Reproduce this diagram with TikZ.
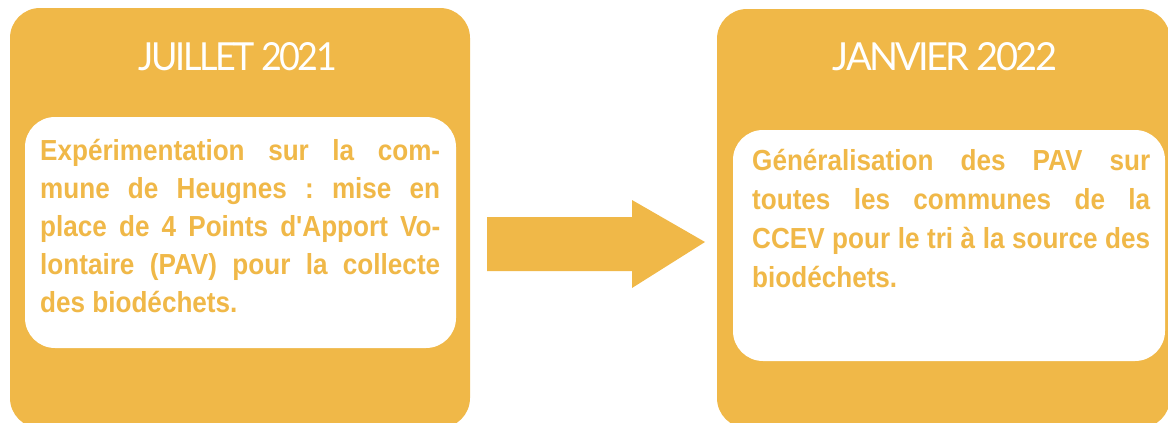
\documentclass[tikz,border=0pt]{standalone}
\usepackage{fontspec}
\setmainfont{Liberation Sans}
\newfontfamily\bodyfont[FakeStretch=0.90]{Liberation Sans}
\newfontfamily\titlefont[LetterSpace=-7]{Lato}
\definecolor{gold}{HTML}{F0B848}
\tikzset{
  outerbox/.style={fill=gold, rounded corners=30pt},
  innerbox/.style={fill=white, rounded corners=30pt},
  titletext/.style={text=white, inner sep=0pt, anchor=base},
  bodyline/.style={text=gold, inner sep=0pt, anchor=base west, font=\frenchspacing\bodyfont\bfseries\fontsize{29}{35}\selectfont},
}
\newcommand{\jline}[2]{\makebox[#1pt][s]{#2}}
\begin{document}
\begin{tikzpicture}[x=1pt,y=-1pt]
\useasboundingbox (0,0) rectangle (1168,423);
\begin{scope}
\clip (0,0) rectangle (1168,423);
% left card
\fill[outerbox] (10,8) rectangle (470,428);
\fill[innerbox] (25,117) rectangle (456,348);
% right card
\fill[outerbox] (717,9) rectangle (1170,428);
\fill[innerbox] (733,130) rectangle (1165,361);
\end{scope}
% titles
\node[titletext] (t1) at (238,70) {\resizebox{198pt}{28pt}{\titlefont JUILLET 2021}};
\node[titletext] (t2) at (945,70) {\resizebox{224pt}{28pt}{\titlefont JANVIER 2022}};
% left text
\node[bodyline] (l1) at (40,160) {\jline{400}{Expérimentation sur la com-}};
\node[bodyline] (l2) at (40,198) {\jline{400}{mune de Heugnes : mise en}};
\node[bodyline] (l3) at (40,236) {\jline{400}{place de 4 Points d'Apport Vo-}};
\node[bodyline] (l4) at (40,274) {\jline{400}{lontaire (PAV) pour la collecte}};
\node[bodyline] (l5) at (40,312) {des biodéchets.};
% right text
\node[bodyline] (r1) at (752,170) {\jline{398}{Généralisation des PAV sur}};
\node[bodyline] (r2) at (752,209) {\jline{398}{toutes les communes de la}};
\node[bodyline] (r3) at (752,248) {\jline{398}{CCEV pour le tri à la source des}};
\node[bodyline] (r4) at (752,287) {biodéchets.};
% arrow
\coordinate (a0) at (487,217);
\coordinate (tip) at (705,242);
\fill[gold] (a0) -- (632,217) -- (632,200) -- (tip) -- (632,288) -- (632,271) -- (487,271) -- cycle;
\end{tikzpicture}
\end{document}
